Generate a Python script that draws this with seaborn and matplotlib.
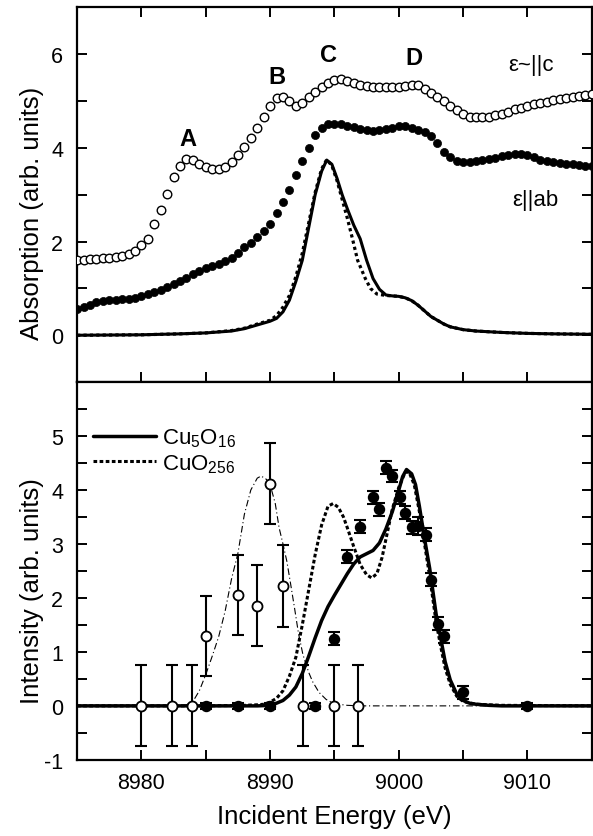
import matplotlib
matplotlib.use("Agg")
import matplotlib.pyplot as plt
import matplotlib.ticker as mticker
import numpy as np
import seaborn as sns

# ---------------------------------------------------------------------------
# Top panel: XAS spectra (0.5 eV steps)
# ---------------------------------------------------------------------------
e_xas = np.arange(8975.0, 9015.01, 0.5)

abs_c = [1.60, 1.60, 1.62, 1.63, 1.65, 1.66, 1.68, 1.70, 1.74, 1.80,
         1.92, 2.06, 2.38, 2.68, 3.02, 3.38, 3.62, 3.76, 3.74, 3.66,
         3.60, 3.55, 3.56, 3.60, 3.70, 3.85, 4.02, 4.22, 4.42, 4.65,
         4.90, 5.07, 5.08, 5.00, 4.90, 4.95, 5.08, 5.20, 5.30, 5.38,
         5.45, 5.47, 5.42, 5.38, 5.35, 5.32, 5.30, 5.29, 5.30, 5.30,
         5.30, 5.32, 5.35, 5.34, 5.25, 5.17, 5.08, 5.00, 4.90, 4.80,
         4.72, 4.66, 4.65, 4.65, 4.67, 4.70, 4.73, 4.77, 4.82, 4.86,
         4.90, 4.93, 4.96, 4.99, 5.02, 5.05, 5.07, 5.09, 5.11, 5.13,
         5.15]

abs_ab = [0.55, 0.60, 0.65, 0.70, 0.73, 0.75, 0.76, 0.77, 0.78, 0.80,
          0.84, 0.88, 0.92, 0.97, 1.03, 1.09, 1.15, 1.23, 1.30, 1.37,
          1.43, 1.48, 1.53, 1.58, 1.65, 1.76, 1.88, 1.98, 2.10, 2.22,
          2.38, 2.62, 2.85, 3.10, 3.42, 3.72, 4.00, 4.28, 4.42, 4.50,
          4.50, 4.50, 4.47, 4.44, 4.41, 4.38, 4.36, 4.38, 4.40, 4.43,
          4.46, 4.47, 4.43, 4.38, 4.35, 4.25, 4.10, 3.92, 3.80, 3.73,
          3.70, 3.70, 3.72, 3.74, 3.76, 3.78, 3.82, 3.84, 3.86, 3.86,
          3.84, 3.80, 3.75, 3.73, 3.70, 3.68, 3.66, 3.65, 3.63, 3.62,
          3.62]

# calculated absorption (solid / dotted)
e_calc = [8975, 8980, 8983, 8985, 8987, 8988, 8989, 8990, 8990.5, 8991,
          8991.5, 8992, 8992.5, 8993, 8993.5, 8994, 8994.4, 8994.8, 8995.2,
          8995.6, 8996, 8996.5, 8997, 8997.5, 8998, 8998.5, 8999, 8999.5,
          9000, 9000.5, 9001, 9001.5, 9002, 9002.5, 9003, 9003.5, 9004,
          9005, 9006, 9008, 9010, 9012, 9015]
calc_solid = [0.0, 0.01, 0.03, 0.05, 0.09, 0.14, 0.22, 0.30, 0.36, 0.50,
              0.75, 1.15, 1.60, 2.30, 3.00, 3.50, 3.74, 3.65, 3.35,
              3.00, 2.70, 2.35, 2.06, 1.60, 1.21, 0.98, 0.86, 0.84,
              0.83, 0.80, 0.74, 0.64, 0.52, 0.40, 0.32, 0.24, 0.18,
              0.12, 0.09, 0.06, 0.04, 0.03, 0.02]
e_calc2 = [8975, 8980, 8983, 8985, 8987, 8988, 8989, 8990, 8990.5, 8991,
           8991.5, 8992, 8992.5, 8993, 8993.5, 8994, 8994.4, 8994.8, 8995.2,
           8995.6, 8996, 8996.4, 8996.8, 8997.4, 8997.8, 8998.3, 8999,
           9000, 9000.5, 9001, 9001.5, 9002, 9002.5, 9003, 9003.5, 9004,
           9005, 9006, 9008, 9010, 9012, 9015]
calc_dot = [0.0, 0.01, 0.03, 0.05, 0.10, 0.15, 0.24, 0.32, 0.42, 0.60,
            0.85, 1.25, 1.75, 2.40, 3.05, 3.55, 3.75, 3.62, 3.30,
            2.90, 2.50, 2.06, 1.60, 1.21, 1.00, 0.88, 0.85,
            0.83, 0.80, 0.74, 0.64, 0.52, 0.40, 0.32, 0.24, 0.18,
            0.12, 0.09, 0.06, 0.04, 0.03, 0.02]

peak_labels = ["A", "B", "C", "D"]
peak_x = [8983.6, 8990.5, 8994.5, 9001.2]
peak_y = [4.19, 5.53, 6.0, 5.94]

# ---------------------------------------------------------------------------
# Bottom panel: RIXS intensities
# ---------------------------------------------------------------------------
open_e = [8980, 8982.4, 8983.9, 8985.0, 8987.5, 8989.0, 8990.0, 8991.0,
          8992.55, 8995.0, 8996.8]
open_i = [0, 0, 0, 1.29, 2.05, 1.86, 4.12, 2.23, 0, 0, 0]
open_err = [0.75, 0.75, 0.75, 0.74, 0.74, 0.75, 0.75, 0.76, 0.75, 0.75, 0.75]

fill_e = [8985.0, 8987.5, 8990.0, 8993.5, 8995.0, 8996.0, 8997.0, 8998.0,
          8998.5, 8999.0, 8999.5, 9000.1, 9000.5, 9001.0, 9001.5, 9002.1,
          9002.5, 9003.05, 9003.5, 9005.0, 9010.0]
fill_i = [0, 0, 0, 0, 1.24, 2.76, 3.32, 3.87, 3.64, 4.41, 4.26, 3.87, 3.58,
          3.31, 3.33, 3.17, 2.34, 1.52, 1.29, 0.25, 0]
fill_err = [0.05, 0.05, 0.05, 0.05, 0.12, 0.12, 0.12, 0.12, 0.12, 0.12,
            0.12, 0.12, 0.12, 0.12, 0.17, 0.12, 0.12, 0.12, 0.12, 0.12, 0.05]

e_cu5 = [8975, 8985, 8989, 8990, 8990.5, 8991, 8991.5, 8992, 8992.5, 8993,
         8993.5, 8994, 8994.5, 8995, 8995.5, 8996, 8996.5, 8997, 8997.5,
         8998, 8998.5, 8999, 8999.5, 9000, 9000.3, 9000.6, 9001, 9001.3,
         9001.6, 9002, 9002.4, 9002.9, 9003.3, 9003.6, 9004, 9004.5, 9005,
         9005.5, 9006, 9007, 9008, 9015]
i_cu5 = [0, 0, 0, 0.01, 0.05, 0.10, 0.20, 0.35, 0.60, 0.92,
         1.26, 1.58, 1.84, 2.05, 2.25, 2.45, 2.63, 2.76, 2.82,
         2.88, 3.02, 3.28, 3.60, 4.00, 4.25, 4.38, 4.30, 4.10,
         3.70, 3.10, 2.55, 1.70, 1.20, 0.82, 0.48, 0.22, 0.10,
         0.05, 0.03, 0.01, 0, 0]

e_cuo = [8975, 8985, 8988, 8989, 8989.5, 8990, 8990.5, 8991, 8991.5, 8992,
         8992.5, 8993, 8993.5, 8994, 8994.5, 8994.9, 8995.3, 8995.7, 8996,
         8996.5, 8997, 8997.5, 8997.9, 8998.3, 8998.7, 8999.1, 8999.5, 9000,
         9000.5, 9000.8, 9001.2, 9001.6, 9002, 9002.4, 9002.9, 9003.3,
         9003.6, 9004, 9004.5, 9005, 9006, 9008, 9015]
i_cuo = [0, 0, 0.01, 0.02, 0.03, 0.07, 0.14, 0.28, 0.55, 0.90,
         1.50, 2.15, 2.80, 3.35, 3.70, 3.75, 3.68, 3.50, 3.30,
         2.95, 2.62, 2.43, 2.37, 2.45, 2.75, 3.20, 3.65, 4.05,
         4.33, 4.33, 4.10, 3.60, 3.00, 2.40, 1.55, 1.05,
         0.70, 0.40, 0.18, 0.08, 0.03, 0.01, 0]

e_fit = [8975, 8983, 8983.5, 8984, 8984.5, 8985, 8985.5, 8986, 8986.5, 8987,
         8987.5, 8988, 8988.5, 8989, 8989.3, 8989.7, 8990, 8990.4, 8990.7,
         8991, 8991.3, 8991.6, 8991.9, 8992.2, 8992.55, 8993, 8993.3,
         8993.8, 8994.35, 8995, 8996, 8997, 9015]
i_fit = [0, 0, 0.02, 0.08, 0.28, 0.58, 0.92, 1.28, 1.75, 2.35,
         2.83, 3.55, 4.00, 4.22, 4.26, 4.20, 4.10, 3.75, 3.30,
         3.00, 2.68, 2.25, 1.81, 1.35, 0.95, 0.62, 0.45,
         0.25, 0.12, 0.04, 0.01, 0, 0]

top_yticks = [0, 2, 4, 6]
bottom_yticks = [-1, 0, 1, 2, 3, 4, 5]

# ---------------------------------------------------------------------------
sns.set_theme(style="ticks")
plt.rcParams["font.family"] = ["Liberation Sans", "DejaVu Sans"]
plt.rcParams["mathtext.fontset"] = "custom"
plt.rcParams["mathtext.rm"] = "Liberation Sans"
plt.rcParams["mathtext.default"] = "regular"
plt.rcParams["axes.unicode_minus"] = False
for key in ("text.color", "axes.labelcolor", "xtick.color", "ytick.color",
            "axes.edgecolor"):
    plt.rcParams[key] = "black"

fig, (ax1, ax2) = plt.subplots(
    2, 1, sharex=True, figsize=(5.93, 8.37), dpi=100,
    gridspec_kw={"hspace": 0, "height_ratios": [375, 378]},
)
fig.subplots_adjust(left=0.130, right=0.998, top=0.990, bottom=0.091)

# --- top ---
sns.scatterplot(x=e_xas, y=abs_c, ax=ax1, marker="o", s=38,
                facecolor="white", edgecolor="black", linewidth=1.0, zorder=3)
sns.scatterplot(x=e_xas, y=abs_ab, ax=ax1, marker="o", s=34,
                color="black", edgecolor="black", linewidth=0.5, zorder=3)
sns.lineplot(x=e_calc, y=calc_solid, ax=ax1, color="black", linewidth=2.2)
sns.lineplot(x=e_calc2, y=calc_dot, ax=ax1, color="black", linewidth=2.3,
             linestyle=(0, (1, 1)))

for lab, px, py in zip(peak_labels, peak_x, peak_y):
    ax1.text(px, py, lab, fontsize=17, fontweight="bold",
             ha="center", va="center")
ax1.text(9010.3, 5.77, "ε~||c", fontsize=16, ha="center", va="center")
ax1.text(9010.6, 2.9, "ε||ab", fontsize=16, ha="center", va="center")

ax1.set_ylim(-1, 7)
ax1.yaxis.set_major_locator(mticker.FixedLocator(top_yticks))
ax1.yaxis.set_minor_locator(mticker.MultipleLocator(1))
ax1.set_ylabel("Absorption (arb. units)", fontsize=18.5)
ax1.yaxis.set_label_coords(-0.064, 0.453)

# --- bottom ---
ax2.errorbar(open_e, open_i, yerr=open_err, fmt="none", ecolor="black",
             elinewidth=1.5, capsize=4.3, capthick=1.5, zorder=2)
ax2.errorbar(fill_e, fill_i, yerr=fill_err, fmt="none", ecolor="black",
             elinewidth=1.5, capsize=4.3, capthick=1.5, zorder=2)
sns.lineplot(x=e_fit, y=i_fit, ax=ax2, color="black", linewidth=0.8,
             linestyle=(0, (6, 2.5, 1, 2.5)), zorder=3)
sns.lineplot(x=e_cuo, y=i_cuo, ax=ax2, color="black", linewidth=2.2,
             linestyle=(0, (1.2, 0.8)), label="CuO$_{256}$", zorder=4)
sns.lineplot(x=e_cu5, y=i_cu5, ax=ax2, color="black", linewidth=2.5,
             label="Cu$_5$O$_{16}$", zorder=4)
sns.scatterplot(x=open_e, y=open_i, ax=ax2, marker="o", s=52,
                facecolor="white", edgecolor="black", linewidth=1.3, zorder=5)
sns.scatterplot(x=fill_e, y=fill_i, ax=ax2, marker="o", s=52,
                color="black", edgecolor="black", linewidth=1.0, zorder=5)

handles, labels = ax2.get_legend_handles_labels()
order = [labels.index("Cu$_5$O$_{16}$"), labels.index("CuO$_{256}$")]
ax2.legend([handles[i] for i in order], [labels[i] for i in order],
           loc="upper left", bbox_to_anchor=(0.03, 0.883), frameon=False,
           fontsize=16, handlelength=2.84, handletextpad=0.3,
           labelspacing=0.15, borderpad=0, borderaxespad=0)

ax2.set_ylim(-1, 6)
ax2.set_xlim(8975, 9015)
ax2.yaxis.set_major_locator(mticker.FixedLocator(bottom_yticks))
ax2.yaxis.set_minor_locator(mticker.MultipleLocator(0.5))
ax2.xaxis.set_major_locator(mticker.MultipleLocator(10))
ax2.xaxis.set_minor_locator(mticker.MultipleLocator(5))
ax2.xaxis.set_major_formatter(mticker.FormatStrFormatter("%d"))
ax2.set_ylabel("Intensity (arb. units)", fontsize=18.5)
ax2.yaxis.set_label_coords(-0.064, 0.45)
ax2.set_xlabel("Incident Energy (eV)", fontsize=18.5)
ax2.xaxis.set_label_coords(0.5, -0.116)

for ax, top in ((ax1, True), (ax2, False)):
    ax.tick_params(which="both", direction="in", length=7, width=1.4,
                   top=top, bottom=True, left=True, right=True,
                   labelsize=15.5, color="black", labelcolor="black")
    ax.tick_params(axis="y", which="both", pad=10)
    ax.tick_params(axis="x", which="both", pad=9)
    for sp in ax.spines.values():
        sp.set_linewidth(1.6)
        sp.set_color("black")
ax1.tick_params(axis="x", labelbottom=False)

plt.savefig("out.png", dpi=100)
